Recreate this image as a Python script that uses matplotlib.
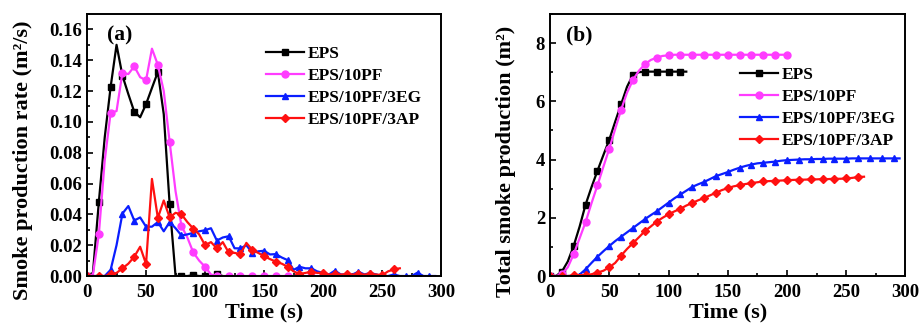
import numpy as np
import matplotlib
matplotlib.use("Agg")
import matplotlib.pyplot as plt
from matplotlib.ticker import MultipleLocator

plt.rcParams['font.family'] = ['Liberation Serif', 'DejaVu Serif']
plt.rcParams['font.weight'] = 'bold'

labels = ["EPS", "EPS/10PF", "EPS/10PF/3EG", "EPS/10PF/3AP"]
colors = ["#000000", "#FF3CFF", "#0A1EFF", "#FF1010"]
markers = ["s", "o", "^", "D"]

# ---- (a) smoke production rate, 5 s steps ----
t_eps_a = np.arange(0, 120, 5)
spr_eps = [0, 0.002, 0.048, 0.09, 0.1227, 0.150, 0.130, 0.118, 0.1066, 0.103, 0.1115, 0.122,
           0.1324, 0.105, 0.0465, 0, 0, 0, 0.0005, 0, 0, 0, 0.001, 0]
t_pf_a = np.arange(0, 205, 5)
spr_pf = [0, 0.001, 0.027, 0.075, 0.106, 0.107, 0.132, 0.131, 0.136, 0.129, 0.127, 0.1475,
          0.137, 0.12, 0.087, 0.055, 0.0325, 0.025, 0.0153, 0.01, 0.006, 0.001, 0,
          0, 0, 0, 0, 0, 0, 0, 0, 0, 0, 0, 0, 0, 0, 0, 0, 0, 0]
t_eg_a = np.arange(0, 300, 5)
spr_eg = [0, 0, 0, 0, 0.004, 0.02, 0.0405, 0.0454, 0.036, 0.038, 0.032, 0.032, 0.035, 0.029,
          0.035, 0.031, 0.0263, 0.027, 0.028, 0.029, 0.0297, 0.031, 0.023, 0.025, 0.0258, 0.018,
          0.0179, 0.02, 0.015, 0.016, 0.0164, 0.014, 0.0142, 0.012, 0.0103, 0.004, 0.006, 0.005,
          0.005, 0.003, 0.002, 0.001, 0.0035, 0.001, 0.001, 0.001, 0.0028, 0.001, 0.002, 0.001,
          0, 0, 0.001, 0, 0, 0, 0.0022, 0, 0, 0]
t_ap_a = np.arange(0, 270, 5)
spr_ap = [0, 0, 0, 0, 0.001, 0.002, 0.005, 0.008, 0.0125, 0.019, 0.0078, 0.063, 0.0377, 0.049,
          0.038, 0.041, 0.040, 0.035, 0.0308, 0.027, 0.020, 0.022, 0.0179, 0.022, 0.0153, 0.015,
          0.0142, 0.0215, 0.017, 0.015, 0.0129, 0.011, 0.0093, 0.008, 0.006, 0.003, 0.0013, 0.002,
          0.0028, 0.002, 0.002, 0.001, 0.001, 0.001, 0.001, 0.001, 0.001, 0.001, 0.001, 0.001,
          0.0005, 0.003, 0.0043, 0.005]

# ---- (b) total smoke production, 5 s steps ----
t_eps_b = np.arange(0, 120, 5)
tsp_eps = [0, 0, 0.15, 0.5, 1.04, 1.7, 2.45, 3.05, 3.61, 4.15, 4.68, 5.3, 5.9, 6.5, 6.91, 7.0,
           7.02, 7.02, 7.02, 7.02, 7.02, 7.02, 7.02, 7.02]
t_pf_b = np.arange(0, 205, 5)
tsp_pf = [0, 0, 0.07, 0.3, 0.75, 1.3, 1.85, 2.5, 3.11, 3.75, 4.37, 5.05, 5.71, 6.3, 6.73, 7.05,
          7.27, 7.42, 7.5, 7.56, 7.58, 7.6, 7.6, 7.6, 7.6, 7.6, 7.6, 7.6, 7.6, 7.6, 7.6, 7.6, 7.6,
          7.6, 7.6, 7.6, 7.6, 7.6, 7.6, 7.6, 7.6]
t_eg_b = np.arange(0, 300, 5)
tsp_eg = [0, 0, 0, 0, 0, 0.05, 0.23, 0.45, 0.66, 0.85, 1.03, 1.2, 1.35, 1.5, 1.65, 1.8, 1.95,
          2.09, 2.22, 2.37, 2.52, 2.67, 2.8, 2.93, 3.06, 3.15, 3.23, 3.33, 3.43, 3.5, 3.57, 3.65,
          3.72, 3.78, 3.83, 3.87, 3.89, 3.91, 3.93, 3.96, 3.98, 3.99, 4.0, 4.01, 4.01, 4.02, 4.02,
          4.03, 4.03, 4.03, 4.03, 4.04, 4.04, 4.04, 4.04, 4.04, 4.04, 4.04, 4.04, 4.04]
t_ap_b = np.arange(0, 270, 5)
tsp_ap = [0, 0, 0, 0, 0.02, 0.03, 0.03, 0.06, 0.12, 0.18, 0.3, 0.45, 0.7, 0.93, 1.13, 1.33,
          1.54, 1.7, 1.87, 2.0, 2.12, 2.22, 2.31, 2.42, 2.51, 2.6, 2.68, 2.77, 2.86, 2.95, 3.02,
          3.08, 3.12, 3.16, 3.19, 3.22, 3.25, 3.26, 3.27, 3.28, 3.29, 3.3, 3.31, 3.31, 3.32, 3.32,
          3.33, 3.33, 3.34, 3.34, 3.35, 3.37, 3.4, 3.41]

fig = plt.figure(figsize=(9.19, 3.30), dpi=100)
axa = fig.add_axes([0.0947, 0.1636, 0.3853, 0.794])
axb = fig.add_axes([0.5985, 0.1636, 0.3868, 0.794])

series_a = [(t_eps_a, spr_eps), (t_pf_a, spr_pf), (t_eg_a, spr_eg), (t_ap_a, spr_ap)]
series_b = [(t_eps_b, tsp_eps), (t_pf_b, tsp_pf), (t_eg_b, tsp_eg), (t_ap_b, tsp_ap)]

for ax, series in ((axa, series_a), (axb, series_b)):
    for (t, v), lab, c, m in zip(series, labels, colors, markers):
        ms = 5 if m != "D" else 4.5
        ax.plot(t, v, color=c, marker=m, markersize=ms, markevery=2, lw=1.6, label=lab)
    ax.set_xlim(0, 300)
    ax.xaxis.set_major_locator(MultipleLocator(50))
    ax.xaxis.set_minor_locator(MultipleLocator(25))
    ax.tick_params(which='both', direction='in', labelsize=13.5, width=1.2)
    ax.tick_params(which='major', length=4.5)
    ax.tick_params(which='minor', length=2.5)
    ax.tick_params(axis='x', pad=6)
    for s in ax.spines.values():
        s.set_linewidth(1.4)
    ax.set_xlabel("Time (s)", fontsize=16, fontweight='bold', labelpad=1)
    ax.set_facecolor('white')

axa.set_ylim(0, 0.17)
axa.yaxis.set_major_locator(MultipleLocator(0.02))
axa.yaxis.set_minor_locator(MultipleLocator(0.01))
axa.yaxis.set_major_formatter(matplotlib.ticker.FormatStrFormatter('%.2f'))
axa.set_ylabel("Smoke production rate (m²/s)", fontsize=16, fontweight='bold')
axa.yaxis.set_label_coords(-0.152, 0.443)
axa.text(0.055, 0.955, "(a)", transform=axa.transAxes, fontsize=15.5, fontweight='bold', va='top')
axa.legend(loc='upper left', bbox_to_anchor=(0.48, 0.91), frameon=False,
           handlelength=2.2, handletextpad=0.2, labelspacing=0.33, borderpad=0,
           prop={'weight': 'bold', 'size': 12.5})

axb.set_ylim(0, 9)
axb.yaxis.set_major_locator(MultipleLocator(2))
axb.yaxis.set_minor_locator(MultipleLocator(1))
axb.set_ylabel("Total smoke production (m²)", fontsize=16, fontweight='bold')
axb.yaxis.set_label_coords(-0.095, 0.437)
axb.text(0.045, 0.955, "(b)", transform=axb.transAxes, fontsize=15.5, fontweight='bold', va='top')
axb.legend(loc='upper left', bbox_to_anchor=(0.51, 0.83), frameon=False,
           handlelength=2.2, handletextpad=0.2, labelspacing=0.33, borderpad=0,
           prop={'weight': 'bold', 'size': 12.5})

for ax in (axa, axb):
    for lbl in ax.get_xticklabels() + ax.get_yticklabels():
        lbl.set_fontweight('bold')

fig.savefig("out.png", dpi=100, facecolor='white')
